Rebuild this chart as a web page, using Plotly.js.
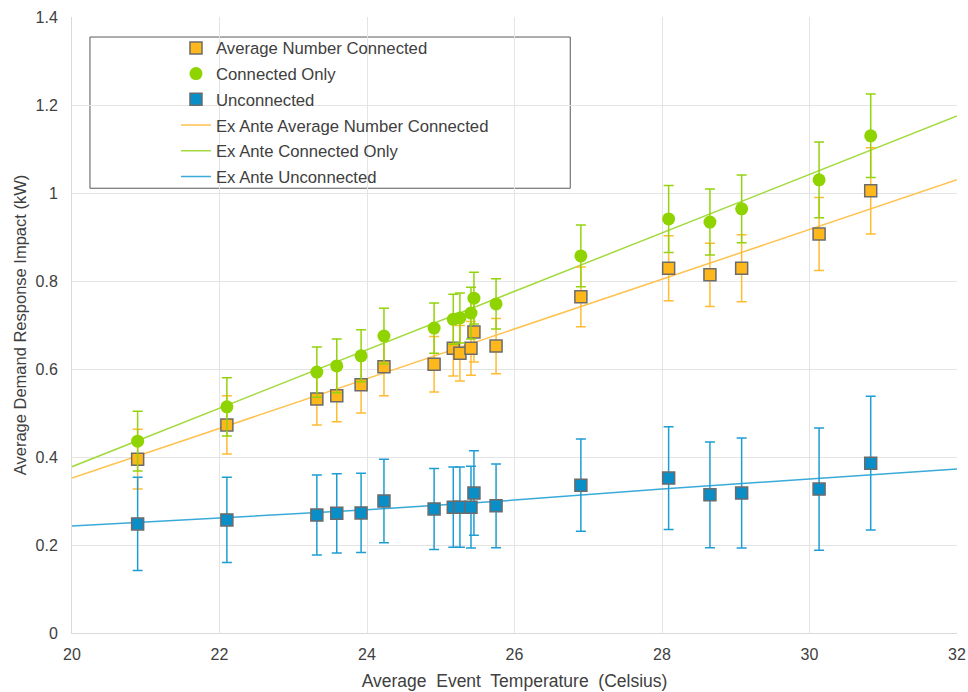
<!DOCTYPE html>
<html>
<head>
<meta charset="utf-8">
<script src="https://cdn.plot.ly/plotly-3.0.1.min.js"></script>
<style>html,body{margin:0;padding:0;background:#fff;}#chart{width:968px;height:692px;}</style>
</head>
<body>
<div id="chart"></div>
<script>
// Average event temperature (Celsius) for each event
const temps = [20.89, 22.10, 23.32, 23.59, 23.92, 24.23, 24.91, 25.17, 25.26, 25.41, 25.45, 25.75, 26.90, 28.09, 28.65, 29.08, 30.13, 30.83];

// Average Number Connected
const avgConnected = [0.395, 0.473, 0.532, 0.539, 0.564, 0.605, 0.611, 0.647, 0.636, 0.647, 0.684, 0.652, 0.764, 0.829, 0.814, 0.829, 0.907, 1.005];
const avgConnectedErr = [0.068, 0.066, 0.059, 0.059, 0.064, 0.066, 0.063, 0.063, 0.063, 0.061, 0.068, 0.063, 0.068, 0.074, 0.072, 0.076, 0.083, 0.098];

// Connected Only
const connectedOnly = [0.436, 0.514, 0.593, 0.607, 0.630, 0.675, 0.693, 0.713, 0.716, 0.727, 0.761, 0.748, 0.857, 0.941, 0.934, 0.964, 1.030, 1.130];
const connectedOnlyErr = [0.068, 0.066, 0.057, 0.061, 0.059, 0.063, 0.057, 0.057, 0.057, 0.059, 0.059, 0.057, 0.070, 0.076, 0.075, 0.077, 0.086, 0.095];

// Unconnected
const unconnected = [0.248, 0.257, 0.268, 0.272, 0.273, 0.300, 0.282, 0.286, 0.286, 0.286, 0.318, 0.289, 0.336, 0.352, 0.314, 0.318, 0.327, 0.386];
const unconnectedErr = [0.106, 0.097, 0.091, 0.090, 0.090, 0.095, 0.092, 0.091, 0.091, 0.093, 0.096, 0.095, 0.105, 0.117, 0.120, 0.125, 0.139, 0.152];

// Ex ante estimates
const exAnteTemps = [20, 22, 24, 26, 28, 30, 32];
const exAnteAvgConnected = [0.352, 0.465, 0.578, 0.691, 0.804, 0.917, 1.030];
const exAnteConnectedOnly = [0.378, 0.511, 0.644, 0.776, 0.909, 1.042, 1.175];
const exAnteUnconnected = [0.243, 0.261, 0.280, 0.302, 0.327, 0.350, 0.373];

const names = ['Average Number Connected', 'Connected Only', 'Unconnected',
  'Ex Ante Average Number Connected', 'Ex Ante Connected Only', 'Ex Ante Unconnected'];

const cOrange = '#ffb81c', cGreen = '#8fd400', cBlue = '#0a8ec8';
const eOrange = '#ffbc33', eGreen = '#93d30c', eBlue = '#1d9dd3';
const lOrange = '#ffc24f', lGreen = '#a3da3f', lBlue = '#3aaad9';
const edge = '#6b6b6b';

const traces = [
  {x: exAnteTemps, y: exAnteAvgConnected, name: names[3], mode: 'lines', type: 'scatter',
   line: {color: lOrange, width: 1.5}, legendrank: 4, legendgroup: 'g4'},
  {x: exAnteTemps, y: exAnteConnectedOnly, name: names[4], mode: 'lines', type: 'scatter',
   line: {color: lGreen, width: 1.5}, legendrank: 5, legendgroup: 'g5'},
  {x: exAnteTemps, y: exAnteUnconnected, name: names[5], mode: 'lines', type: 'scatter',
   line: {color: lBlue, width: 1.5}, legendrank: 6, legendgroup: 'g6'},
  {x: temps, y: avgConnected, name: names[0], mode: 'markers', type: 'scatter',
   marker: {symbol: 'square', size: 12, color: cOrange, line: {color: edge, width: 1.5}},
   error_y: {type: 'data', array: avgConnectedErr, visible: true, color: eOrange, thickness: 1.5, width: 5},
   legendrank: 1, legendgroup: 'g1'},
  {x: temps, y: connectedOnly, name: names[1], mode: 'markers', type: 'scatter',
   marker: {symbol: 'circle', size: 13, color: cGreen},
   error_y: {type: 'data', array: connectedOnlyErr, visible: true, color: eGreen, thickness: 1.5, width: 5},
   legendrank: 2, legendgroup: 'g2'},
  {x: temps, y: unconnected, name: names[2], mode: 'markers', type: 'scatter',
   marker: {symbol: 'square', size: 12, color: cBlue, line: {color: edge, width: 1.5}},
   error_y: {type: 'data', array: unconnectedErr, visible: true, color: eBlue, thickness: 1.5, width: 5},
   legendrank: 3, legendgroup: 'g3'}
];

const fam = '"Liberation Sans", Arial, sans-serif';
const txt = '#404040';

const layout = {
  width: 968, height: 692,
  margin: {l: 72, r: 11, t: 17, b: 59},
  paper_bgcolor: '#fff', plot_bgcolor: '#fff',
  font: {family: fam, size: 16, color: txt},
  showlegend: true,
  legend: {
    x: 0.1175, y: 0.978, xanchor: 'left', yanchor: 'top',
    bgcolor: 'rgba(0,0,0,0)', borderwidth: 0,
    font: {family: fam, size: 16.7, color: txt},
    traceorder: 'grouped', tracegroupgap: 1
  },
  xaxis: {
    range: [20, 32], dtick: 2, tick0: 20,
    showgrid: true, gridcolor: '#e4e4e4', gridwidth: 1,
    zeroline: false, showline: true, linecolor: '#d9d9d9', linewidth: 1,
    ticks: '', ticklabelstandoff: 7, tickfont: {size: 16, color: txt},
    title: {text: 'Average\u00a0 Event\u00a0 Temperature\u00a0 (Celsius)', font: {size: 17.5, color: txt}, standoff: 12}
  },
  yaxis: {
    range: [0, 1.4], dtick: 0.2, tick0: 0,
    showgrid: true, gridcolor: '#e4e4e4', gridwidth: 1,
    zeroline: false, showline: true, linecolor: '#d9d9d9', linewidth: 1,
    ticks: '', ticklabelstandoff: 10, tickfont: {size: 16, color: txt},
    title: {text: 'Average Demand Response Impact (kW)', font: {size: 16.5, color: txt}, standoff: 4}
  },
  shapes: [{
    type: 'rect', xref: 'paper', yref: 'paper', layer: 'below',
    x0: 0.0203, x1: 0.563, y0: 0.722, y1: 0.9675,
    fillcolor: '#ffffff', line: {color: '#595959', width: 1}
  }]
};

Plotly.newPlot('chart', traces, layout, {displayModeBar: false, staticPlot: true});
</script>
</body>
</html>
